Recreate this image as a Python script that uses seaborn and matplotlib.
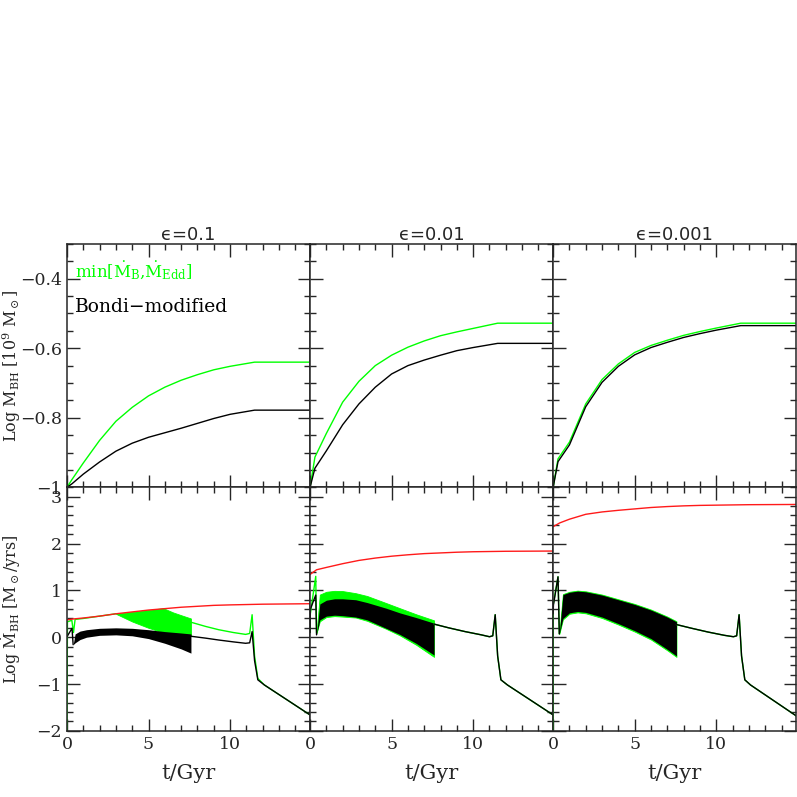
import pandas as pd
import seaborn as sns
import matplotlib.pyplot as plt
from matplotlib.ticker import MultipleLocator, FuncFormatter

# panel titles
eps_labels = ["\u03f5=0.1", "\u03f5=0.01", "\u03f5=0.001"]

# ---- top row: log M_BH [1e9 Msun] ----
mass_t = [0, 0.3, 1, 2, 3, 4, 5, 6, 7, 8, 9, 10, 11.5, 14.9]
mass_green = [
    [-1.0, -0.978, -0.93, -0.865, -0.81, -0.77, -0.737, -0.712, -0.692, -0.676, -0.662, -0.652, -0.64, -0.64],
    [-1.0, -0.913, -0.845, -0.755, -0.695, -0.65, -0.62, -0.597, -0.579, -0.564, -0.553, -0.543, -0.528, -0.528],
    [-1.0, -0.918, -0.87, -0.76, -0.69, -0.645, -0.612, -0.592, -0.577, -0.563, -0.552, -0.542, -0.528, -0.528],
]
mass_black = [
    [-1.0, -0.99, -0.962, -0.927, -0.896, -0.873, -0.856, -0.843, -0.83, -0.816, -0.802, -0.79, -0.778, -0.778],
    [-1.0, -0.945, -0.895, -0.82, -0.76, -0.712, -0.674, -0.65, -0.634, -0.62, -0.607, -0.598, -0.586, -0.586],
    [-1.0, -0.926, -0.878, -0.768, -0.698, -0.652, -0.619, -0.598, -0.583, -0.569, -0.558, -0.548, -0.535, -0.535],
]

# ---- bottom row: log Mdot_BH [Msun/yr] ----
# Eddington rate (red)
red_t = [0, 0.4, 1, 2, 3, 4, 5, 6, 7, 8, 9, 10, 12, 14.9]
red_vals = [
    [0.37, 0.39, 0.41, 0.45, 0.50, 0.54, 0.58, 0.61, 0.64, 0.66, 0.68, 0.69, 0.705, 0.715],
    [1.34, 1.44, 1.49, 1.57, 1.64, 1.69, 1.73, 1.76, 1.785, 1.80, 1.815, 1.825, 1.835, 1.84],
    [2.36, 2.44, 2.52, 2.625, 2.675, 2.71, 2.74, 2.77, 2.79, 2.805, 2.815, 2.82, 2.83, 2.835],
]

# early spike segment (before the oscillating phase)
pre_t_green = [
    [0, 0.03, 0.3, 0.4, 0.5, 1, 2, 3],
    [0, 0.02, 0.35, 0.4],
    [0, 0.01, 0.3, 0.38],
]
pre_green = [
    [-2.3, 0.33, 0.36, 0.1, 0.38, 0.40, 0.45, 0.5],
    [0.1, 0.5, 1.3, 0.09],
    [-2.3, 0.7, 1.29, 0.07],
]
pre_t_black = [
    [0, 0.31, 0.38],
    [0, 0.02, 0.35, 0.4],
    [0, 0.02, 0.3, 0.38],
]
pre_black = [
    [0.01, 0.19, -0.16],
    [0.1, 0.6, 0.9, 0.05],
    [0.5, 0.69, 1.29, 0.07],
]

# oscillating phase: upper / lower envelopes
band_t_green = [
    [3.0, 4, 5, 5.9, 6.5, 7, 7.6],
    [0.4, 0.6, 1.0, 1.5, 2, 2.8, 3.5, 4.66, 5.5, 6.5, 7.6],
    [0.38, 0.6, 1.0, 1.5, 2, 3, 4, 5, 6, 7, 7.56],
]
band_green_hi = [
    [0.5, 0.54, 0.58, 0.62, 0.53, 0.47, 0.40],
    [0.09, 0.91, 0.97, 0.99, 0.985, 0.94, 0.88, 0.73, 0.62, 0.49, 0.36],
    [0.07, 0.92, 0.97, 0.995, 0.98, 0.91, 0.81, 0.71, 0.59, 0.44, 0.34],
]
band_green_lo = [
    [0.5, 0.335, 0.2, 0.1, 0.05, 0.03, 0.02],
    [0.09, 0.34, 0.43, 0.45, 0.44, 0.42, 0.35, 0.18, 0.04, -0.16, -0.42],
    [0.07, 0.38, 0.50, 0.53, 0.51, 0.41, 0.27, 0.12, -0.05, -0.28, -0.42],
]
band_t_black = [
    [0.38, 0.5, 0.8, 1.2, 2, 3, 4, 5, 6, 7, 7.6],
    [0.4, 0.6, 1.0, 1.5, 2, 2.8, 3.5, 4.66, 5.5, 6.5, 7.6],
    [0.38, 0.6, 1.0, 1.5, 2, 3, 4, 5, 6, 7, 7.56],
]
band_black_hi = [
    [-0.16, 0.07, 0.13, 0.16, 0.19, 0.20, 0.19, 0.16, 0.12, 0.09, 0.07],
    [0.05, 0.71, 0.79, 0.82, 0.82, 0.80, 0.74, 0.62, 0.52, 0.42, 0.30],
    [0.07, 0.91, 0.96, 0.985, 0.97, 0.90, 0.80, 0.70, 0.58, 0.43, 0.33],
]
band_black_lo = [
    [-0.16, -0.12, -0.05, 0.0, 0.04, 0.05, 0.03, -0.03, -0.13, -0.25, -0.34],
    [0.05, 0.37, 0.45, 0.47, 0.46, 0.43, 0.37, 0.19, 0.06, -0.13, -0.38],
    [0.07, 0.40, 0.52, 0.55, 0.53, 0.43, 0.29, 0.14, -0.03, -0.26, -0.40],
]

# late segment after the oscillations
post_t = [
    [7.6, 8.5, 9.3, 10.2, 10.95, 11.2, 11.35, 11.5, 11.7, 12.1, 14.9],
    [7.6, 8.5, 9.5, 10.5, 11.0, 11.2, 11.35, 11.5, 11.7, 12.1, 14.9],
    [7.56, 8.5, 9.5, 10.5, 11.05, 11.25, 11.4, 11.55, 11.75, 12.1, 14.9],
]
post_green = [
    [0.32, 0.23, 0.16, 0.10, 0.06, 0.08, 0.48, -0.4, -0.88, -1.02, -1.66],
    [0.28, 0.20, 0.12, 0.05, 0.01, 0.03, 0.48, -0.4, -0.91, -1.02, -1.66],
    [0.27, 0.19, 0.11, 0.04, 0.01, 0.03, 0.48, -0.4, -0.91, -1.02, -1.68],
]
post_black = [
    [0.02, -0.02, -0.06, -0.10, -0.13, -0.12, 0.12, -0.5, -0.91, -1.02, -1.66],
    [0.28, 0.20, 0.12, 0.05, 0.01, 0.03, 0.48, -0.4, -0.91, -1.02, -1.66],
    [0.27, 0.19, 0.11, 0.04, 0.01, 0.03, 0.48, -0.4, -0.91, -1.02, -1.68],
]

GREEN = "#00ff00"
RED = "#ff1a1a"
LW = 1.0

sns.set_style("ticks")
plt.rcParams["font.family"] = ["DejaVu Serif"]
plt.rcParams["mathtext.fontset"] = "dejavuserif"


def segments(parts):
    """Stack (t, v) pieces into one frame with a unit id per piece."""
    frames = [pd.DataFrame({"t": t, "v": v, "seg": i}) for i, (t, v) in enumerate(parts)]
    return pd.concat(frames, ignore_index=True)


def draw_lines(ax, df, color):
    sns.lineplot(data=df, x="t", y="v", units="seg", estimator=None, sort=False,
                 color=color, linewidth=LW, ax=ax, legend=False)


fig = plt.figure(figsize=(7.97, 7.97), dpi=100)
axes = fig.subplots(2, 3, sharex=True, sharey="row",
                    gridspec_kw=dict(hspace=0, wspace=0))
fig.subplots_adjust(left=0.084, right=0.999, bottom=0.083, top=0.694)

fmt = FuncFormatter(lambda v, _: f"{v:g}".replace("-", "\u2212"))

for i in range(3):
    # top: black hole mass
    ax = axes[0, i]
    draw_lines(ax, segments([(mass_t, mass_green[i])]), GREEN)
    draw_lines(ax, segments([(mass_t, mass_black[i])]), "black")
    ax.set_title(eps_labels[i], fontsize=13, family="DejaVu Sans", pad=3)

    # bottom: accretion rate
    ax = axes[1, i]
    ax.fill_between(band_t_green[i], band_green_lo[i], band_green_hi[i],
                    color=GREEN, linewidth=0.6, edgecolor=GREEN)
    draw_lines(ax, segments([(pre_t_green[i], pre_green[i]),
                             (post_t[i], post_green[i])]), GREEN)
    ax.fill_between(band_t_black[i], band_black_lo[i], band_black_hi[i],
                    color="black", linewidth=0)
    draw_lines(ax, segments([(pre_t_black[i], pre_black[i]),
                             (post_t[i], post_black[i])]), "black")
    draw_lines(ax, segments([(red_t, red_vals[i])]), RED)

for ax in axes.flat:
    ax.set_xlim(0, 14.9)
    ax.xaxis.set_major_locator(MultipleLocator(5))
    ax.xaxis.set_minor_locator(MultipleLocator(1))
    ax.tick_params(which="both", direction="in", top=True, right=True,
                   width=1.0, labelsize=12.5)
    ax.tick_params(which="major", length=9)
    ax.tick_params(which="minor", length=4.5)
    for sp in ax.spines.values():
        sp.set_linewidth(1.1)
    ax.set_xlabel("")
    ax.set_ylabel("")

axes[0, 0].set_ylim(-1, -0.3)
axes[0, 0].yaxis.set_major_locator(MultipleLocator(0.2))
axes[0, 0].yaxis.set_minor_locator(MultipleLocator(0.05))
axes[0, 0].yaxis.set_major_formatter(fmt)
axes[1, 0].set_ylim(-2, 3.2)
axes[1, 0].yaxis.set_major_locator(MultipleLocator(1))
axes[1, 0].yaxis.set_minor_locator(MultipleLocator(0.2))
axes[1, 0].yaxis.set_major_formatter(fmt)

axes[0, 0].set_ylabel(r"Log M$_{\rm BH}$ [10$^9$ M$_\odot$]", fontsize=11.5)
axes[1, 0].set_ylabel(r"Log $\dot{\rm M}_{\rm BH}$ [M$_\odot$/yrs]", fontsize=11.5)
for ax in axes[:, 0]:
    ax.yaxis.set_label_coords(-0.18, 0.5)
for ax in axes[1]:
    ax.set_xlabel("t/Gyr", fontsize=15, labelpad=8)

axes[0, 0].text(0.035, 0.89, r"min[$\dot{\rm M}_{\rm B}$,$\dot{\rm M}_{\rm Edd}$]",
                color=GREEN, fontsize=12, transform=axes[0, 0].transAxes, va="center")
axes[0, 0].text(0.035, 0.74, "Bondi\u2212modified", color="black", fontsize=13.5,
                transform=axes[0, 0].transAxes, va="center")

plt.savefig("out.png", dpi=100)
